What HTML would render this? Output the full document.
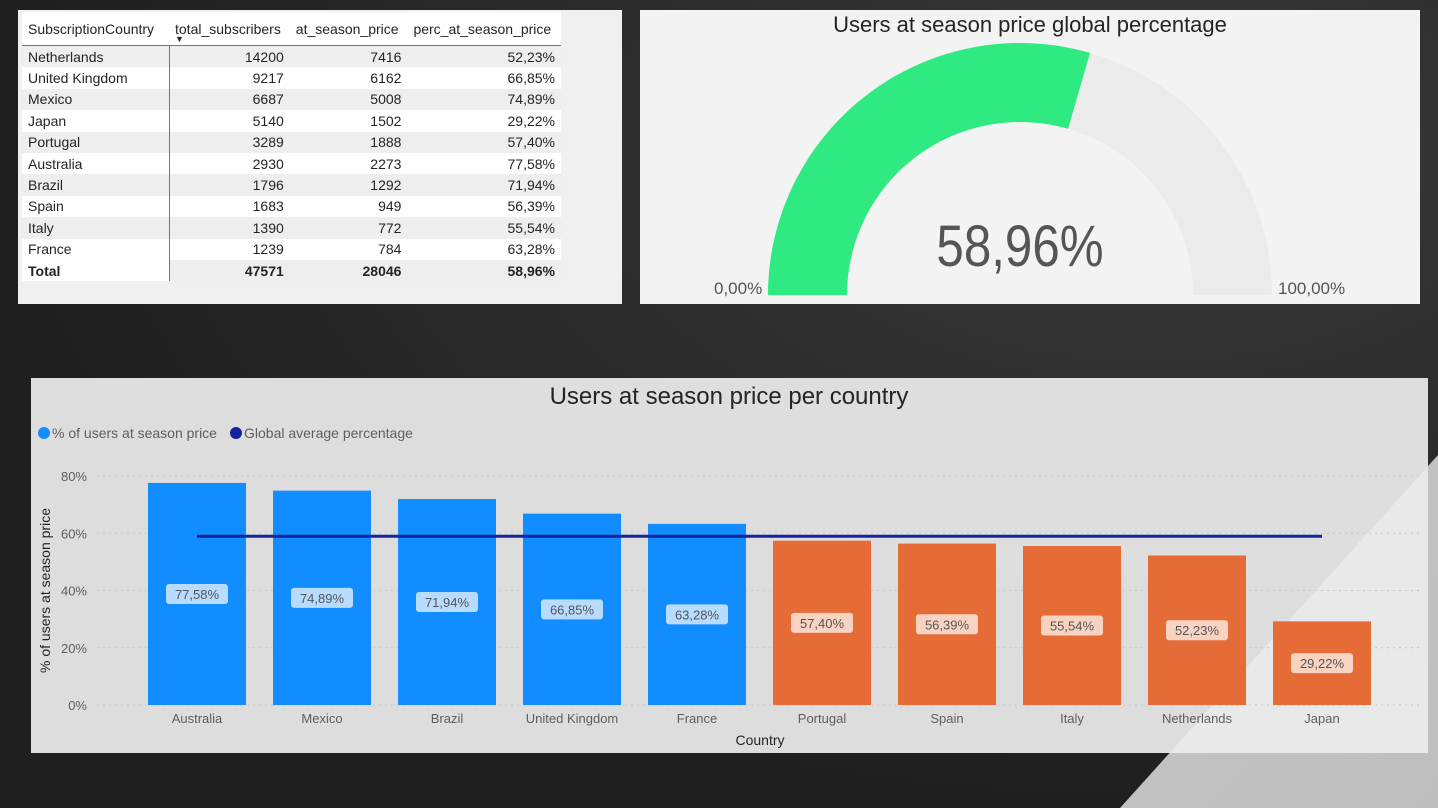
<!DOCTYPE html>
<html><head><meta charset="utf-8"><style>
html,body{margin:0;width:1438px;height:808px;overflow:hidden}
body{font-family:"Liberation Sans",sans-serif;background:#262626;position:relative}
.bg{position:absolute;inset:0;background:radial-gradient(ellipse at 80% 20%,#3a3a3a,#1f1f1f 70%)}
.phone{position:absolute;left:0;top:0;width:1438px;height:808px;background:linear-gradient(135deg,#e0e0e0,#bdbdbd);clip-path:polygon(1120px 808px,1438px 455px,1438px 808px)}
.panel{position:absolute}
table{border-collapse:collapse;font-size:14px;color:#252423}
td,th{padding:0 6px;height:21.4px;white-space:nowrap}
th{font-weight:normal;height:33px;text-align:left;border-bottom:1px solid #118dff}
td.n{text-align:right}
tr:nth-child(even) td{background:#eeeeee}
td:first-child{border-right:1px solid #118dff}
</style></head><body>
<div class="bg"></div>
<div class="phone"></div>

<div class="panel" style="left:18px;top:10px;width:604px;height:294px;background:#f0f0f0">
<table style="position:absolute;left:4px;top:2px;background:#fff;width:539px">
<tr><th style="width:135px">SubscriptionCountry</th><th style="position:relative">total_subscribers<span style="position:absolute;left:6px;top:22px;font-size:9px">▼</span></th><th>at_season_price</th><th>perc_at_season_price</th></tr>
<tr><td>Netherlands</td><td class="n">14200</td><td class="n">7416</td><td class="n">52,23%</td></tr>
<tr><td>United Kingdom</td><td class="n">9217</td><td class="n">6162</td><td class="n">66,85%</td></tr>
<tr><td>Mexico</td><td class="n">6687</td><td class="n">5008</td><td class="n">74,89%</td></tr>
<tr><td>Japan</td><td class="n">5140</td><td class="n">1502</td><td class="n">29,22%</td></tr>
<tr><td>Portugal</td><td class="n">3289</td><td class="n">1888</td><td class="n">57,40%</td></tr>
<tr><td>Australia</td><td class="n">2930</td><td class="n">2273</td><td class="n">77,58%</td></tr>
<tr><td>Brazil</td><td class="n">1796</td><td class="n">1292</td><td class="n">71,94%</td></tr>
<tr><td>Spain</td><td class="n">1683</td><td class="n">949</td><td class="n">56,39%</td></tr>
<tr><td>Italy</td><td class="n">1390</td><td class="n">772</td><td class="n">55,54%</td></tr>
<tr><td>France</td><td class="n">1239</td><td class="n">784</td><td class="n">63,28%</td></tr>
<tr style="font-weight:bold"><td style="background:#fff">Total</td><td class="n">47571</td><td class="n">28046</td><td class="n">58,96%</td></tr>
</table></div>

<div class="panel" style="left:640px;top:10px;width:780px;height:294px;background:#f3f3f3">
<svg width="780" height="294" style="position:absolute;left:0;top:0">
<text x="390" y="22" text-anchor="middle" font-size="22" fill="#252423">Users at season price global percentage</text>
<path d="M128,285 A252,252 0 0 1 632,285 L553,285 A173,173 0 0 0 207,285 Z" fill="#ebebeb"/>
<path id="gfill" fill="#2eea80"/>
<text x="380" y="256" text-anchor="middle" font-size="58" fill="#555" transform="translate(380,0) scale(0.85,1) translate(-380,0)">58,96%</text>
<text x="74" y="284" font-size="17" fill="#555">0,00%</text>
<text x="638" y="284" font-size="17" fill="#555">100,00%</text>
</svg></div>

<div class="panel" style="left:31px;top:378px;width:1397px;height:375px;background:rgba(236,236,236,.93)">
<svg id="chart" width="1397" height="375" style="position:absolute;left:0;top:0"></svg></div>

<script>
const gaugeValue = 0.5896;
(function(){const cx=380,cy=285,R=252,r=173,a=Math.PI*(1-gaugeValue);
const x1=cx+R*Math.cos(a),y1=cy-R*Math.sin(a),x2=cx+r*Math.cos(a),y2=cy-r*Math.sin(a);
document.getElementById('gfill').setAttribute('d',`M${cx-R},${cy} A${R},${R} 0 0 1 ${x1},${y1} L${x2},${y2} A${r},${r} 0 0 0 ${cx-r},${cy} Z`);})();

const categories = ["Australia","Mexico","Brazil","United Kingdom","France","Portugal","Spain","Italy","Netherlands","Japan"];
const values = [77.58,74.89,71.94,66.85,63.28,57.40,56.39,55.54,52.23,29.22];
const valueLabels = ["77,58%","74,89%","71,94%","66,85%","63,28%","57,40%","56,39%","55,54%","52,23%","29,22%"];
const globalAverage = 58.96;
const yTicks = [0,20,40,60,80];
const yTickLabels = ["0%","20%","40%","60%","80%"];

const svg=document.getElementById('chart');const NS='http://www.w3.org/2000/svg';
function el(t,a,txt){const e=document.createElementNS(NS,t);for(const k in a)e.setAttribute(k,a[k]);if(txt!=null)e.textContent=txt;svg.appendChild(e);return e;}
const y0=327,pxPer=229/80;
const y=v=>y0-v*pxPer;
const x0=166,pitch=125,bw=98;
const xc=i=>x0+pitch*i;
let t=el('text',{x:698,y:26,'text-anchor':'middle','font-size':24,fill:'#252423'},'Users at season price per country');


let c=el('circle',{cx:13,cy:55,r:6,fill:'#118dff'});


t=el('text',{x:21,y:60,'font-size':14,fill:'#605e5c'},'% of users at season price');


c=el('circle',{cx:205,cy:55,r:6,fill:'#12239e'});


t=el('text',{x:213,y:60,'font-size':14,fill:'#605e5c'},'Global average percentage');


yTicks.forEach((v,i)=>{
  const g=el('line',{x1:66,x2:1390,y1:y(v),y2:y(v),stroke:'#c8c8c8','stroke-dasharray':'2 4'});
  
  
  const l=el('text',{x:56,y:y(v)+5,'text-anchor':'end','font-size':13,fill:'#605e5c'},yTickLabels[i]);
  
  
});
t=el('text',{x:0,y:0,'text-anchor':'middle','font-size':14,fill:'#252423',transform:`translate(19,${y(40)}) rotate(-90)`},'% of users at season price');


categories.forEach((cat,i)=>{
  const v=values[i],col=v>=globalAverage?'#118dff':'#e66c37';
  const b=el('rect',{x:xc(i)-bw/2,y:y(v),width:bw,height:y0-y(v),fill:col});
  
  
  const my=(y(v)+y0)/2;
  const bx=el('rect',{x:xc(i)-31,y:my-10,width:62,height:20,rx:3,fill:v>=globalAverage?'#b7dcff':'#f8d3c2'});
  
  
  const lt=el('text',{x:xc(i),y:my+5,'text-anchor':'middle','font-size':13,fill:'#555'},valueLabels[i]);
  
  
  const xl=el('text',{x:xc(i),y:345,'text-anchor':'middle','font-size':13,fill:'#605e5c'},cat);
  
  
});
const al=el('line',{x1:xc(0),x2:xc(categories.length-1),y1:y(globalAverage),y2:y(globalAverage),stroke:'#12239e','stroke-width':3});


t=el('text',{x:729,y:367,'text-anchor':'middle','font-size':14,fill:'#252423'},'Country');


</script>
</body></html>
